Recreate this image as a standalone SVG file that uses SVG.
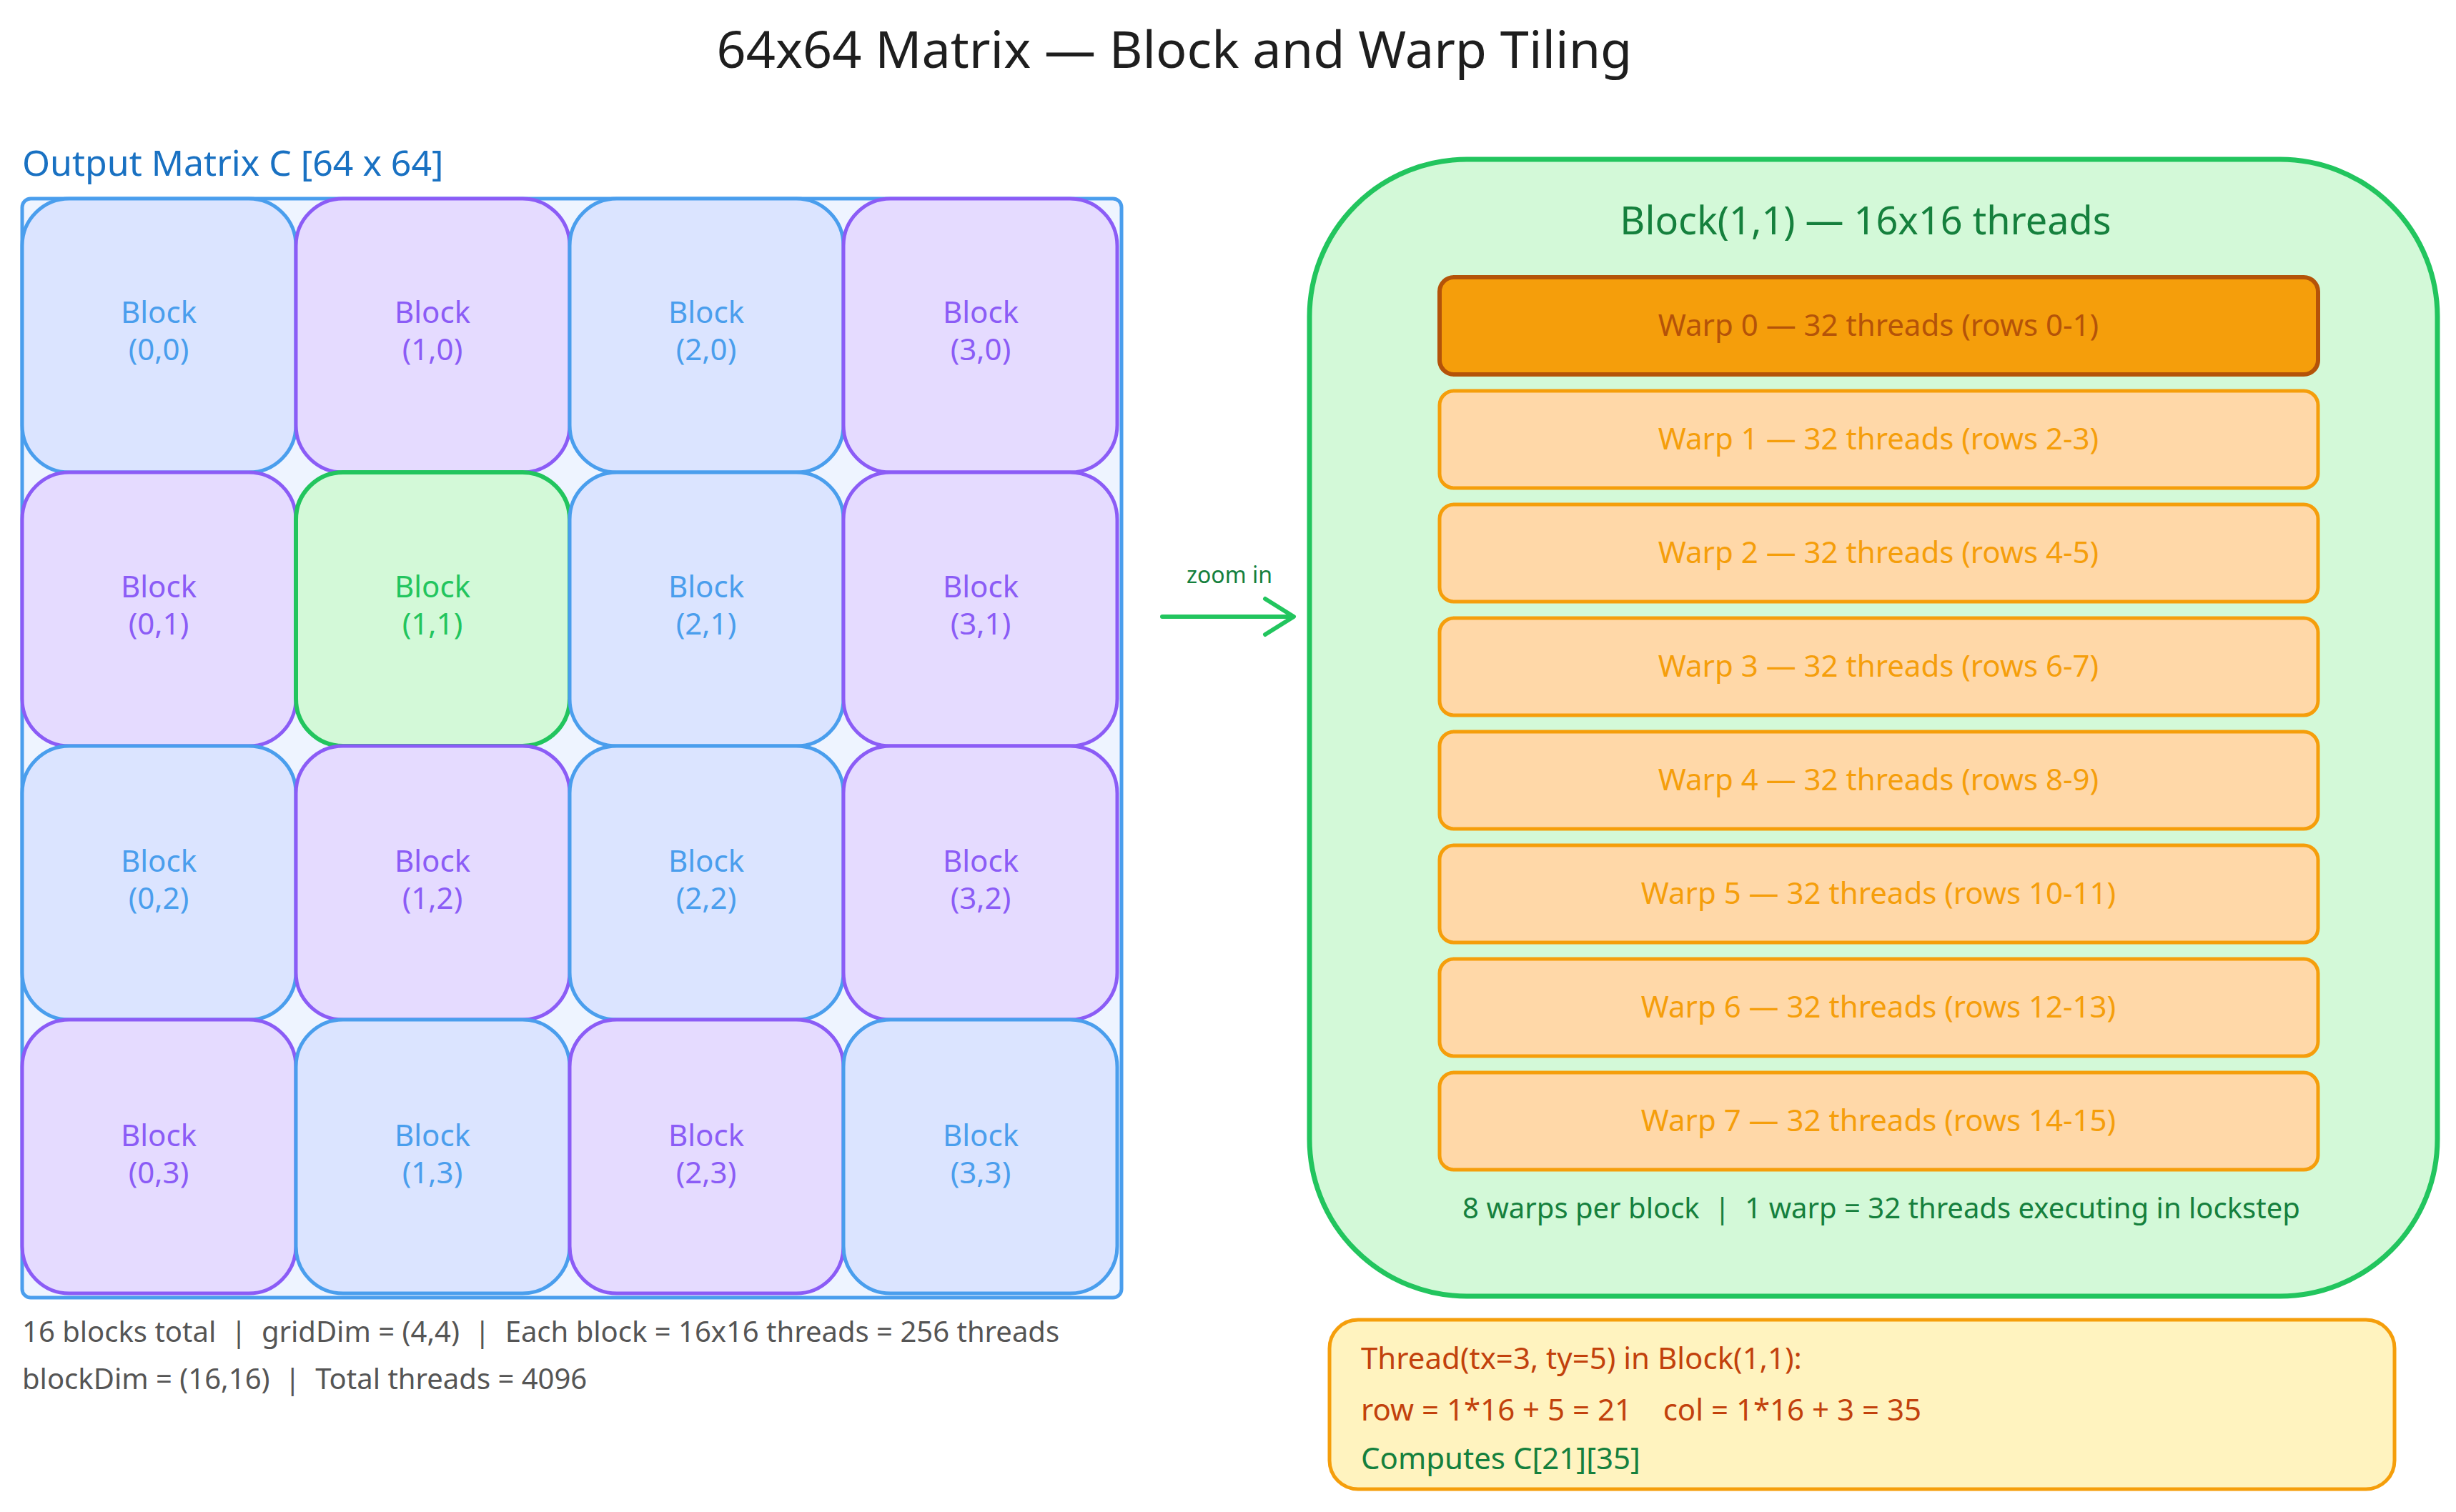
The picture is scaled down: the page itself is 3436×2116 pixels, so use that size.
<svg xmlns="http://www.w3.org/2000/svg" width="3436" height="2116" viewBox="0 0 3436 2116">
<style>
text{font-family:"Noto Sans","Liberation Sans",sans-serif;white-space:pre}
.cb{fill:#dbe4ff;stroke:#4a9eed;stroke-width:5}
.cp{fill:#e5dbff;stroke:#8b5cf6;stroke-width:5}
.cg{fill:#d3f9d8;stroke:#22c55e;stroke-width:6}
.tb{fill:#4a9eed}.tp{fill:#8b5cf6}.tg{fill:#22c55e}
.cl{font-size:42px;text-anchor:middle}
.w{fill:#ffd8a8;stroke:#f59e0b;stroke-width:5}
.wt{font-size:42px;text-anchor:middle;fill:#f59e0b}
.note{font-size:40px;fill:#555}
</style>
<rect width="3436" height="2116" fill="#fff"/>
<text x="1643" y="95" font-size="72" text-anchor="middle" fill="#1e1e1e">64x64 Matrix — Block and Warp Tiling</text>
<text x="31" y="246" font-size="50" fill="#1971c2">Output Matrix C [64 x 64]</text>
<g id="matrix">
<rect x="31" y="278" width="1538" height="1538" rx="12" fill="#eef4ff" stroke="#4a9eed" stroke-width="5"/>
</g>
<g id="blocks">
<g id="b00"><rect class="cb" x="31" y="278" width="383" height="383" rx="66"/><text class="cl tb" x="222" y="452">Block</text><text class="cl tb" x="222" y="504">(0,0)</text></g>
<g id="b10"><rect class="cp" x="414" y="278" width="383" height="383" rx="66"/><text class="cl tp" x="605" y="452">Block</text><text class="cl tp" x="605" y="504">(1,0)</text></g>
<g id="b20"><rect class="cb" x="797" y="278" width="383" height="383" rx="66"/><text class="cl tb" x="988" y="452">Block</text><text class="cl tb" x="988" y="504">(2,0)</text></g>
<g id="b30"><rect class="cp" x="1180" y="278" width="383" height="383" rx="66"/><text class="cl tp" x="1372" y="452">Block</text><text class="cl tp" x="1372" y="504">(3,0)</text></g>
<g id="b01"><rect class="cp" x="31" y="661" width="383" height="383" rx="66"/><text class="cl tp" x="222" y="836">Block</text><text class="cl tp" x="222" y="888">(0,1)</text></g>
<g id="b11"><rect class="cg" x="414" y="661" width="383" height="383" rx="66"/><text class="cl tg" x="605" y="836">Block</text><text class="cl tg" x="605" y="888">(1,1)</text></g>
<g id="b21"><rect class="cb" x="797" y="661" width="383" height="383" rx="66"/><text class="cl tb" x="988" y="836">Block</text><text class="cl tb" x="988" y="888">(2,1)</text></g>
<g id="b31"><rect class="cp" x="1180" y="661" width="383" height="383" rx="66"/><text class="cl tp" x="1372" y="836">Block</text><text class="cl tp" x="1372" y="888">(3,1)</text></g>
<g id="b02"><rect class="cb" x="31" y="1044" width="383" height="383" rx="66"/><text class="cl tb" x="222" y="1220">Block</text><text class="cl tb" x="222" y="1272">(0,2)</text></g>
<g id="b12"><rect class="cp" x="414" y="1044" width="383" height="383" rx="66"/><text class="cl tp" x="605" y="1220">Block</text><text class="cl tp" x="605" y="1272">(1,2)</text></g>
<g id="b22"><rect class="cb" x="797" y="1044" width="383" height="383" rx="66"/><text class="cl tb" x="988" y="1220">Block</text><text class="cl tb" x="988" y="1272">(2,2)</text></g>
<g id="b32"><rect class="cp" x="1180" y="1044" width="383" height="383" rx="66"/><text class="cl tp" x="1372" y="1220">Block</text><text class="cl tp" x="1372" y="1272">(3,2)</text></g>
<g id="b03"><rect class="cp" x="31" y="1427" width="383" height="383" rx="66"/><text class="cl tp" x="222" y="1604">Block</text><text class="cl tp" x="222" y="1656">(0,3)</text></g>
<g id="b13"><rect class="cb" x="414" y="1427" width="383" height="383" rx="66"/><text class="cl tb" x="605" y="1604">Block</text><text class="cl tb" x="605" y="1656">(1,3)</text></g>
<g id="b23"><rect class="cp" x="797" y="1427" width="383" height="383" rx="66"/><text class="cl tp" x="988" y="1604">Block</text><text class="cl tp" x="988" y="1656">(2,3)</text></g>
<g id="b33"><rect class="cb" x="1180" y="1427" width="383" height="383" rx="66"/><text class="cl tb" x="1372" y="1604">Block</text><text class="cl tb" x="1372" y="1656">(3,3)</text></g>
</g>
<text class="note" x="31" y="1878" xml:space="preserve">16 blocks total  |  gridDim = (4,4)  |  Each block = 16x16 threads = 256 threads</text>
<text class="note" x="31" y="1944" xml:space="preserve">blockDim = (16,16)  |  Total threads = 4096</text>
<g id="connectors">
<path d="M1626 863 L1808 863 M1770 838 L1810 863 L1770 888" fill="none" stroke="#22c55e" stroke-width="6" stroke-linecap="round" stroke-linejoin="round"/>
<text x="1720" y="816" font-size="32" text-anchor="middle" fill="#15803d">zoom in</text>
</g>
<g id="blockdetail">
<rect x="1832" y="223" width="1578" height="1591" rx="220" fill="#d3f9d8" stroke="#22c55e" stroke-width="7"/>
<text x="2610" y="328" font-size="54" text-anchor="middle" fill="#15803d">Block(1,1) — 16x16 threads</text>
<text x="2632" y="1705" font-size="40" text-anchor="middle" fill="#15803d" xml:space="preserve">8 warps per block  |  1 warp = 32 threads executing in lockstep</text>
</g>
<g id="warps">
<g id="w0"><rect x="2014" y="388" width="1229" height="136" rx="20" fill="#f59e0b" stroke="#b45309" stroke-width="6"/><text class="wt" x="2628" y="470" style="fill:#b45309">Warp 0 — 32 threads (rows 0-1)</text></g>
<g id="w1"><rect class="w" x="2014" y="547" width="1229" height="136" rx="20"/><text class="wt" x="2628" y="629">Warp 1 — 32 threads (rows 2-3)</text></g>
<g id="w2"><rect class="w" x="2014" y="706" width="1229" height="136" rx="20"/><text class="wt" x="2628" y="788">Warp 2 — 32 threads (rows 4-5)</text></g>
<g id="w3"><rect class="w" x="2014" y="865" width="1229" height="136" rx="20"/><text class="wt" x="2628" y="947">Warp 3 — 32 threads (rows 6-7)</text></g>
<g id="w4"><rect class="w" x="2014" y="1024" width="1229" height="136" rx="20"/><text class="wt" x="2628" y="1106">Warp 4 — 32 threads (rows 8-9)</text></g>
<g id="w5"><rect class="w" x="2014" y="1183" width="1229" height="136" rx="20"/><text class="wt" x="2628" y="1265">Warp 5 — 32 threads (rows 10-11)</text></g>
<g id="w6"><rect class="w" x="2014" y="1342" width="1229" height="136" rx="20"/><text class="wt" x="2628" y="1424">Warp 6 — 32 threads (rows 12-13)</text></g>
<g id="w7"><rect class="w" x="2014" y="1501" width="1229" height="136" rx="20"/><text class="wt" x="2628" y="1583">Warp 7 — 32 threads (rows 14-15)</text></g>
</g>
<g id="threadnote">
<rect x="1860" y="1847" width="1490" height="237" rx="40" fill="#fff3bf" stroke="#f59e0b" stroke-width="5"/>
<text x="1904" y="1916" font-size="42" fill="#c2410c">Thread(tx=3, ty=5) in Block(1,1):</text>
<text x="1904" y="1988" font-size="42" fill="#c2410c" xml:space="preserve">row = 1*16 + 5 = 21    col = 1*16 + 3 = 35</text>
<text x="1904" y="2056" font-size="42" fill="#15803d">Computes C[21][35]</text>
</g>
</svg>
